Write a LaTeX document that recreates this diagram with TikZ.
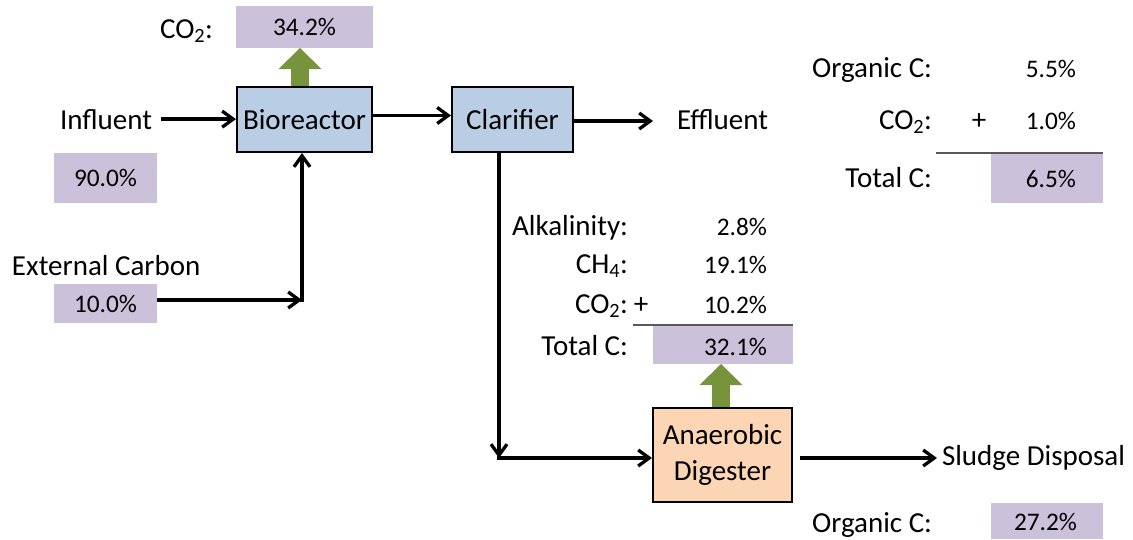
\documentclass[tikz,border=0pt]{standalone}
\usepackage{fontspec}
\setmainfont{Carlito}
\usetikzlibrary{arrows.meta,calc}

\definecolor{lav}{HTML}{CCC1DA}
\definecolor{procblue}{HTML}{B9CDE5}
\definecolor{peach}{HTML}{FCD5B5}
\definecolor{gasgreen}{HTML}{77933C}
\definecolor{rulegray}{HTML}{595959}

\newcommand{\lblfont}{\fontsize{29}{36}\selectfont}
\newcommand{\valfont}{\fontsize{25.3}{30}\selectfont}

\begin{document}
\begin{tikzpicture}[x=1pt,y=-1pt,
  txt/.style={font=\lblfont, inner sep=0pt, outer sep=0pt},
  val/.style={font=\valfont, inner sep=0pt, outer sep=0pt},
  unit/.style={draw=black, line width=2pt, fill=procblue, font=\lblfont, inner sep=0pt},
  shade/.style={fill=lav, font=\valfont, inner sep=0pt, outer sep=0pt},
  flow/.style={line width=3.3pt, -{Straight Barb[length=11pt,width=16pt]}},
  gas/.style={line width=18pt, gasgreen, -{Triangle[length=21pt,width=43pt,line width=0pt]}},
  sumline/.style={line width=1.5pt, rulegray}
]
\useasboundingbox (0,0) rectangle (1133,539);

% process units
\node[unit, minimum width=135pt, minimum height=65pt] (bio) at (304.5,119.5) {Bioreactor};
\node[unit, minimum width=121pt, minimum height=65pt] (clar) at (512.5,119.5) {Clarifier};
\node[unit, fill=peach, minimum width=139pt, minimum height=94pt, align=center] (dig) at (722.5,455) {Anaerobic\\Digester};

% shaded carbon fractions
\node[shade, minimum width=137pt, minimum height=42pt] (offgas) at (304.5,27) {34.2\%};
\node[shade, minimum width=103pt, minimum height=50pt] (infbox) at (105.5,178) {90.0\%};
\node[shade, minimum width=103pt, minimum height=39pt] (extbox) at (105.5,303.5) {10.0\%};
\node[shade, minimum width=112pt, minimum height=50pt] (efftot) at (1047,178) {};
\node[shade, minimum width=140pt, minimum height=39pt] (digtot) at (723,344.5) {};
\node[shade, minimum width=112pt, minimum height=36pt] (sludgebox) at (1047,521) {};

% stream labels
\node[txt, anchor=base east] (co2a) at (213,38) {CO\textsubscript{2}:};
\node[txt, anchor=base west] (infl) at (60,129) {Influent};
\node[txt, anchor=base west] (effl) at (677,129) {Effluent};
\node[txt, anchor=base west] (extc) at (12,275) {External Carbon};
\node[txt, anchor=base west] (sludge) at (942,465) {Sludge Disposal};
\node[txt, anchor=base east] (orgsl) at (932,532) {Organic C:};
\node[val, anchor=base east] (orgslv) at (1077,530) {27.2\%};

% effluent carbon balance
\node[txt, anchor=base east] (orgef) at (932,77) {Organic C:};
\node[txt, anchor=base east] (co2ef) at (932,129) {CO\textsubscript{2}:};
\node[txt, anchor=base] (plusef) at (979,129) {+};
\node[txt, anchor=base east] (totef) at (932,187) {Total C:};
\node[val, anchor=base east] (orgefv) at (1076,77) {5.5\%};
\node[val, anchor=base east] (co2efv) at (1076,129) {1.0\%};
\node[val, anchor=base east] (totefv) at (1076,187) {6.5\%};

% digester carbon balance
\node[txt, anchor=base east] (alk) at (628,235) {Alkalinity:};
\node[txt, anchor=base east] (ch4) at (628,273) {CH\textsubscript{4}:};
\node[txt, anchor=base east] (co2d) at (628,313) {CO\textsubscript{2}:};
\node[txt, anchor=base] (plusd) at (641,313) {+};
\node[txt, anchor=base east] (totd) at (628,355) {Total C:};
\node[val, anchor=base east] (alkv) at (767,235) {2.8\%};
\node[val, anchor=base east] (ch4v) at (767,273) {19.1\%};
\node[val, anchor=base east] (co2dv) at (767,313) {10.2\%};
\node[val, anchor=base east] (totdv) at (767,355) {32.1\%};

\draw[sumline] (efftot.north east) -- ++(-167,0);
\draw[sumline] (digtot.north east) -- ++(-160,0);

% liquid streams
\coordinate (j1) at (302,300);
\coordinate (j2) at (499,458);
\draw[flow, shorten <=9pt] (infl.east) -- (infl.east -| bio.west);
\draw[flow] ([yshift=4pt]bio.east) -- ([yshift=4pt]clar.west);
\draw[flow, shorten >=24pt] ([yshift=-1.5pt]clar.east) -- ([yshift=-1.5pt]clar.east -| effl.west);
\draw[flow] (extbox.east |- j1) -- (j1);
\draw[flow] ([yshift=-1.6pt]j1) -- (j1 |- bio.south);
\draw[flow] (j2 |- clar.south) -- (j2);
\draw[flow] ([xshift=-1.6pt]j2) -- (j2 -| dig.west);
\draw[flow, shorten <=7pt, shorten >=5pt] ([yshift=-3pt]dig.east) -- ([yshift=-3pt]dig.east -| sludge.west);

% gas releases
\draw[gas] ([xshift=-4.5pt]bio.north) -- ([xshift=-4.5pt]bio.north |- offgas.south);
\draw[gas] ([xshift=-1.5pt]dig.north) -- ([xshift=-1.5pt]dig.north |- digtot.south);
\end{tikzpicture}
\end{document}
